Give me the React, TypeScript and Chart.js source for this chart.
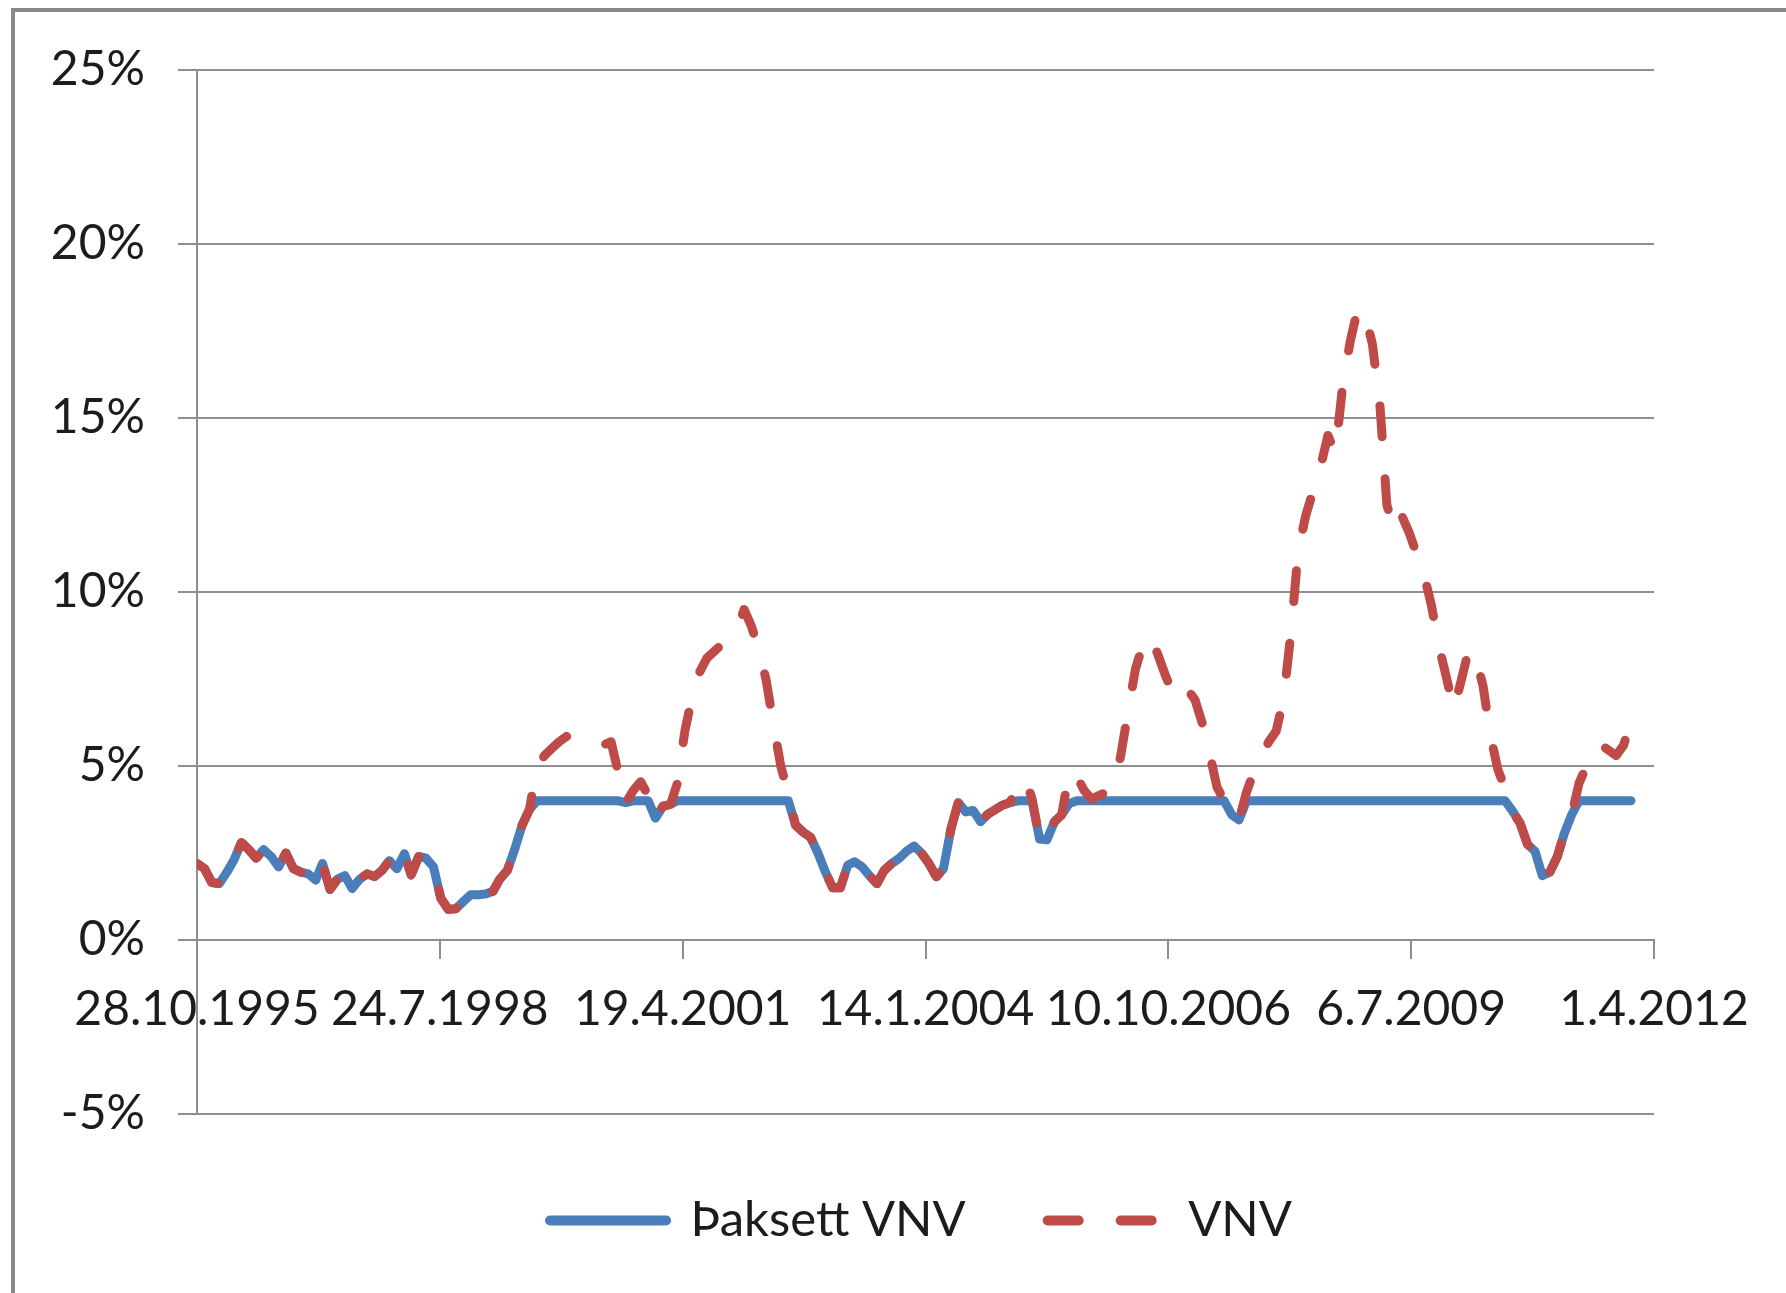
import React, { useEffect, useRef } from 'react';
import { Chart, registerables } from 'chart.js';

Chart.register(...registerables);

// First observation date; one observation per month from here on
const startDate = '28.10.1995';

// Date-axis tick labels (every 1000 days)
const tickLabels = ['28.10.1995', '24.7.1998', '19.4.2001', '14.1.2004', '10.10.2006', '6.7.2009', '1.4.2012'];

// Value-axis ticks (%)
const yTicks = [-5, 0, 5, 10, 15, 20, 25];

const seriesNames = ['Þaksett VNV', 'VNV'];

// Þaksett VNV (%), monthly
const cappedVNV = [
  2.2, 2.05, 1.65, 1.62, 1.95, 2.3, 2.8, 2.6, 2.35, 2.6,
  2.4, 2.1, 2.5, 2.05, 1.95, 1.9, 1.72, 2.2, 1.45, 1.75,
  1.85, 1.48, 1.75, 1.9, 1.82, 2.0, 2.28, 2.05, 2.48, 1.87,
  2.4, 2.35, 2.1, 1.2, 0.88, 0.9, 1.1, 1.3, 1.3, 1.32,
  1.4, 1.75, 2.0, 2.6, 3.3, 3.75, 4, 4, 4, 4,
  4, 4, 4, 4, 4, 4, 4, 4, 3.95, 4,
  4, 4, 3.5, 3.85, 3.9, 4, 4, 4, 4, 4,
  4, 4, 4, 4, 4, 4, 4, 4, 4, 4,
  4, 3.3, 3.1, 2.95, 2.5, 1.95, 1.5, 1.5, 2.15, 2.25,
  2.1, 1.85, 1.62, 2.0, 2.2, 2.35, 2.55, 2.7, 2.5, 2.2,
  1.82, 2.05, 3.2, 3.95, 3.68, 3.72, 3.4, 3.62, 3.75, 3.88,
  3.95, 4, 4, 4, 2.9, 2.88, 3.4, 3.6, 3.92, 4,
  4, 4, 4, 4, 4, 4, 4, 4, 4, 4,
  4, 4, 4, 4, 4, 4, 4, 4, 4, 4,
  3.6, 3.45, 4, 4, 4, 4, 4, 4, 4, 4,
  4, 4, 4, 4, 4, 4, 4, 4, 4, 4,
  4, 4, 4, 4, 4, 4, 4, 4, 4, 4,
  4, 4, 4, 4, 4, 4, 4, 4, 3.7, 3.35,
  2.75, 2.55, 1.85, 1.95, 2.4, 3.05, 3.6, 4, 4, 4,
  4, 4, 4, 4, 4,
];

// VNV (%), monthly
const VNV = [
  2.2, 2.05, 1.65, 1.62, 1.95, 2.3, 2.8, 2.6, 2.35, 2.6,
  2.4, 2.1, 2.5, 2.05, 1.95, 1.9, 1.72, 2.2, 1.45, 1.75,
  1.85, 1.48, 1.75, 1.9, 1.82, 2.0, 2.28, 2.05, 2.48, 1.87,
  2.4, 2.35, 2.1, 1.2, 0.88, 0.9, 1.1, 1.3, 1.3, 1.32,
  1.4, 1.75, 2.0, 2.6, 3.3, 3.75, 5.0, 5.3, 5.5, 5.7,
  5.85, 5.75, 5.6, 5.55, 5.55, 5.6, 5.7, 4.8, 3.95, 4.3,
  4.55, 4.15, 3.5, 3.85, 3.9, 4.5, 6.0, 7.0, 7.7, 8.1,
  8.3, 8.5, 8.7, 8.9, 9.5, 9.0, 8.3, 7.5, 6.2, 5.0,
  4.2, 3.3, 3.1, 2.95, 2.5, 1.95, 1.5, 1.5, 2.15, 2.25,
  2.1, 1.85, 1.62, 2.0, 2.2, 2.35, 2.55, 2.7, 2.5, 2.2,
  1.82, 2.05, 3.2, 3.95, 3.68, 3.72, 3.4, 3.62, 3.75, 3.88,
  3.95, 4.5, 4.65, 4.05, 2.9, 2.88, 3.4, 3.6, 4.85, 4.7,
  4.3, 4.05, 4.15, 4.25, 4.4, 5.3, 6.6, 7.8, 8.5, 8.75,
  8.2, 7.6, 7.1, 6.9, 7.2, 6.9, 6.2, 5.4, 4.4, 4.0,
  3.6, 3.45, 4.25, 4.85, 5.3, 5.7, 6.0, 6.95, 8.9, 11.2,
  12.2, 12.9, 13.6, 14.5, 14.0, 16.0, 17.2, 18.15, 18.0, 17.1,
  15.3, 12.5, 11.75, 12.2, 11.7, 11.1, 10.5, 9.6, 8.45, 7.55,
  6.62, 7.45, 8.35, 8.15, 7.3, 5.9, 4.9, 4.35, 3.7, 3.35,
  2.75, 2.55, 1.85, 1.95, 2.4, 3.05, 3.6, 4.5, 5.0, 5.05,
  5.6, 5.45, 5.3, 5.6, 6.3,
];

const parseDay = (s: string) => {
  const [d, m, y] = s.split('.').map(Number);
  return Date.UTC(y, m - 1, d) / 86400000;
};

const App = () => {
  const ref = useRef<HTMLCanvasElement | null>(null);

  useEffect(() => {
    if (!ref.current) return;
    const [d0, m0, y0] = startDate.split('.').map(Number);
    const day0 = parseDay(startDate);
    const xDays = cappedVNV.map((_, i) => Date.UTC(y0, m0 - 1 + i, d0) / 86400000 - day0);
    const tickDays = tickLabels.map((s) => parseDay(s) - day0);

    const gridColor = '#8e8e8e';
    const textColor = '#1c1c1c';
    const tickFont = { family: 'Lato', size: 48 };
    const legendFont = { family: 'Lato', size: 49 };

    // shift the legend so that it is centred like the original
    const legendShift = {
      id: 'legendShift',
      afterLayout: (chart: any) => {
        if (chart.legend) chart.legend.left = 188;
      },
    };

    const chart = new Chart(ref.current, {
      type: 'line',
      data: {
        datasets: [
          {
            label: seriesNames[0],
            data: cappedVNV.map((v, i) => ({ x: xDays[i], y: v })),
            borderColor: '#4a7ebb',
            backgroundColor: '#4a7ebb',
            borderWidth: 9,
            borderCapStyle: 'round',
            borderJoinStyle: 'round',
            pointRadius: 0,
            tension: 0,
            order: 2,
          },
          {
            label: seriesNames[1],
            data: VNV.map((v, i) => ({ x: xDays[i], y: v })),
            borderColor: '#be4b48',
            backgroundColor: '#be4b48',
            borderWidth: 9,
            borderDash: [31, 42],
            borderCapStyle: 'round',
            borderJoinStyle: 'round',
            pointRadius: 0,
            tension: 0,
            order: 1,
          },
        ],
      },
      options: {
        responsive: false,
        animation: false,
        layout: { padding: { left: 0, right: 132, top: 70, bottom: 38 } },
        scales: {
          x: {
            type: 'linear',
            position: { y: 0 },
            min: tickDays[0],
            max: tickDays[tickDays.length - 1],
            afterBuildTicks: (s: any) => {
              s.ticks = tickDays.map((v) => ({ value: v }));
            },
            ticks: {
              autoSkip: false,
              maxRotation: 0,
              minRotation: 0,
              padding: 23,
              color: textColor,
              font: tickFont,
              callback: (_v: any, i: number) => tickLabels[i],
            },
            grid: { drawOnChartArea: false, drawTicks: true, tickLength: 18, color: gridColor, lineWidth: 2 },
            border: { display: true, color: gridColor, width: 2 },
          },
          y: {
            type: 'linear',
            min: yTicks[0],
            max: yTicks[yTicks.length - 1],
            afterBuildTicks: (s: any) => {
              s.ticks = yTicks.map((v) => ({ value: v }));
            },
            afterFit: (s: any) => {
              s.width = 197;
            },
            ticks: {
              padding: 33,
              color: textColor,
              font: tickFont,
              callback: (v: any) => v + '%',
            },
            grid: { color: gridColor, lineWidth: 2, tickLength: 19 },
            border: { display: true, color: gridColor, width: 2 },
          },
        },
        plugins: {
          legend: {
            position: 'bottom',
            labels: {
              usePointStyle: true,
              pointStyle: 'line',
              pointStyleWidth: 116,
              padding: 82,
              color: textColor,
              font: legendFont,
              sort: (a: any, b: any) => a.datasetIndex - b.datasetIndex,
              generateLabels: (c: any) => {
                const items = (Chart.defaults as any).plugins.legend.labels.generateLabels(c);
                items.forEach((it: any) => {
                  const ds = c.data.datasets[it.datasetIndex];
                  it.lineDash = ds.borderDash || [];
                  it.lineWidth = 10;
                  it.lineCap = 'round';
                  it.strokeStyle = ds.borderColor;
                  it.fillStyle = ds.borderColor;
                });
                return items;
              },
            },
          },
          tooltip: { enabled: false },
        },
      } as any,
      plugins: [legendShift],
    });
    return () => chart.destroy();
  }, []);

  return (
    <div
      style={{
        position: 'absolute',
        left: 0,
        top: 0,
        width: 1786,
        height: 1293,
        background: '#ffffff',
        overflow: 'hidden',
      }}
    >
      <canvas ref={ref} width={1786} height={1293} style={{ position: 'absolute', left: 0, top: 0, width: 1786, height: 1293 }} />
      <div
        style={{
          position: 'absolute',
          left: 11,
          top: 8,
          width: 1800,
          height: 1300,
          borderLeft: '4px solid #8a8a8a',
          borderTop: '4px solid #8a8a8a',
          pointerEvents: 'none',
        }}
      />
    </div>
  );
};

export default App;
